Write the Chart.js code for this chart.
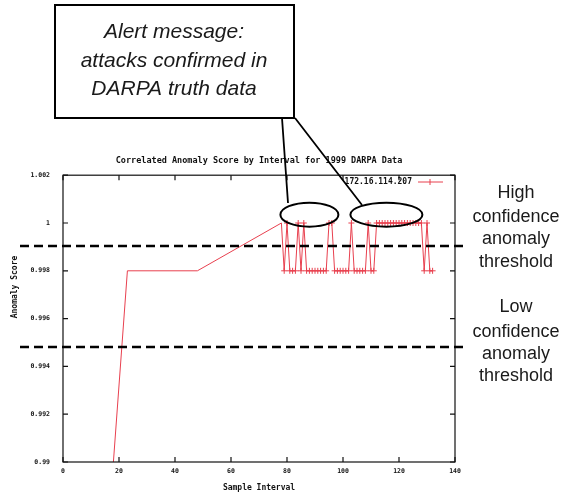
<!DOCTYPE html>
<html>
<head>
<meta charset="utf-8">
<script src="https://cdn.jsdelivr.net/npm/chart.js@4.4.0/dist/chart.umd.min.js"></script>
<style>
  html, body { margin: 0; padding: 0; background: #fff; }
  #wrap { width: 579px; height: 493px; }
</style>
</head>
<body>
<div id="wrap"><canvas id="c" width="579" height="493"></canvas></div>
<script>
// sample interval / correlated anomaly score
const intervals = [18, 23, 48, 78,
  79, 80, 81, 82, 83, 84, 85, 86, 87, 88, 89, 90, 91, 92, 93, 94, 95, 96, 97, 98, 99,
  100, 101, 102, 103, 104, 105, 106, 107, 108, 109, 110, 111, 112, 113, 114, 115, 116,
  117, 118, 119, 120, 121, 122, 123, 124, 125, 126, 127, 128, 129, 130, 131, 132];
const scores = [0.99, 0.998, 0.998, 1,
  0.998, 1, 0.998, 0.998, 0.998, 1, 0.998, 1, 0.998, 0.998, 0.998, 0.998, 0.998, 0.998, 0.998, 0.998, 1, 1, 0.998, 0.998, 0.998,
  0.998, 0.998, 0.998, 1, 0.998, 0.998, 0.998, 0.998, 0.998, 1, 0.998, 0.998, 1, 1, 1, 1, 1,
  1, 1, 1, 1, 1, 1, 1, 1, 1, 1, 1, 1, 0.998, 1, 0.998, 0.998];

const seriesName = "172.16.114.207";
const xTicks = [0, 20, 40, 60, 80, 100, 120, 140];
const yTicks = [0.99, 0.992, 0.994, 0.996, 0.998, 1, 1.002];

const highThreshold = 0.99904;
const lowThreshold = 0.99481;

const red = "#e8404f";
const mono = "'DejaVu Sans Mono', monospace";
const sans = "'Liberation Sans', Arial, sans-serif";

// everything drawn on top of the plot: frame, inward ticks, legend, thresholds and callouts
const overlay = {
  id: "overlay",
  afterDraw(chart) {
    const ctx = chart.ctx;
    const a = chart.chartArea;
    const xs = chart.scales.x, ys = chart.scales.y;
    ctx.save();

    // frame + gnuplot style inward ticks
    ctx.strokeStyle = "#111";
    ctx.lineWidth = 1.2;
    ctx.strokeRect(a.left, a.top, a.right - a.left, a.bottom - a.top);
    ctx.beginPath();
    xTicks.forEach(v => {
      const px = xs.getPixelForValue(v);
      ctx.moveTo(px, a.bottom); ctx.lineTo(px, a.bottom - 5);
      ctx.moveTo(px, a.top); ctx.lineTo(px, a.top + 5);
    });
    yTicks.forEach(v => {
      const py = ys.getPixelForValue(v);
      ctx.moveTo(a.left, py); ctx.lineTo(a.left + 5, py);
      ctx.moveTo(a.right, py); ctx.lineTo(a.right - 5, py);
    });
    ctx.stroke();

    // y axis label, sits a bit above the middle in the original
    ctx.fillStyle = "#111";
    ctx.font = "bold 8px " + mono;
    ctx.textAlign = "center";
    ctx.textBaseline = "middle";
    ctx.save();
    ctx.translate(15, 287);
    ctx.rotate(-Math.PI / 2);
    ctx.fillText("Anomaly Score", 0, 0);
    ctx.restore();

    // legend
    ctx.font = "bold 8px " + mono;
    ctx.textAlign = "right";
    ctx.fillText(seriesName, 412, 182);
    ctx.strokeStyle = red;
    ctx.lineWidth = 1;
    ctx.beginPath();
    ctx.moveTo(418, 182); ctx.lineTo(443, 182);
    ctx.moveTo(430, 179); ctx.lineTo(430, 185);
    ctx.stroke();

    // threshold lines, across the whole figure
    ctx.strokeStyle = "#000";
    ctx.lineWidth = 2.5;
    ctx.setLineDash([9, 5]);
    [highThreshold, lowThreshold].forEach(t => {
      const py = ys.getPixelForValue(t);
      ctx.beginPath();
      ctx.moveTo(20, py); ctx.lineTo(468, py);
      ctx.stroke();
    });
    ctx.setLineDash([]);

    // ellipses round the confirmed attacks
    ctx.lineWidth = 2;
    const e1x = xs.getPixelForValue(88), e2x = xs.getPixelForValue(115.5);
    const ey = ys.getPixelForValue(1.00035);
    ctx.beginPath();
    ctx.ellipse(e1x, ey, 29, 12, 0, 0, Math.PI * 2);
    ctx.stroke();
    ctx.beginPath();
    ctx.ellipse(e2x, ey, 36, 12, 0, 0, Math.PI * 2);
    ctx.stroke();

    // callout lines
    ctx.lineWidth = 1.8;
    ctx.beginPath();
    ctx.moveTo(282, 118); ctx.lineTo(288, 203);
    ctx.moveTo(295, 118); ctx.lineTo(362, 205);
    ctx.stroke();

    // alert box
    ctx.fillStyle = "#fff";
    ctx.fillRect(55, 5, 239, 113);
    ctx.lineWidth = 2;
    ctx.strokeRect(55, 5, 239, 113);
    ctx.fillStyle = "#1a1a1a";
    ctx.font = "italic 21px " + sans;
    ctx.textAlign = "center";
    ctx.textBaseline = "alphabetic";
    ctx.fillText("Alert message:", 174, 38);
    ctx.fillText("attacks confirmed in", 174, 67);
    ctx.fillText("DARPA truth data", 174, 95);

    // threshold captions
    ctx.textBaseline = "middle";
    ctx.font = "18px " + sans;
    ["High", "confidence", "anomaly", "threshold"].forEach((s, i) => {
      ctx.fillText(s, 516, [193, 217, 239, 262][i]);
    });
    ["Low", "confidence", "anomaly", "threshold"].forEach((s, i) => {
      ctx.fillText(s, 516, [307, 332, 354, 376][i]);
    });

    ctx.restore();
  }
};

new Chart(document.getElementById("c"), {
  type: "line",
  data: {
    datasets: [{
      label: seriesName,
      data: intervals.map((x, i) => ({ x: x, y: scores[i] })),
      borderColor: red,
      borderWidth: 1,
      pointStyle: "cross",
      pointRadius: c => (c.raw && c.raw.x >= 79 ? 3 : 0),
      pointBorderColor: red,
      pointBorderWidth: 1,
      tension: 0,
      fill: false
    }]
  },
  options: {
    responsive: false,
    animation: false,
    layout: { padding: { left: 0, right: 124, top: 156, bottom: 0 } },
    plugins: {
      legend: { display: false },
      tooltip: { enabled: false },
      title: {
        display: true,
        fullSize: false,
        text: "Correlated Anomaly Score by Interval for 1999 DARPA Data",
        color: "#111",
        font: { family: mono, size: 8.5, weight: "bold", lineHeight: 1.2 },
        padding: { top: 0, bottom: 9 }
      }
    },
    scales: {
      x: {
        type: "linear",
        min: 0, max: 140,
        afterFit: s => { s.height = 31; },
        afterBuildTicks: s => { s.ticks = xTicks.map(v => ({ value: v })); },
        grid: { display: false, drawTicks: false },
        border: { display: false },
        ticks: { padding: 5, color: "#111", font: { family: mono, size: 6.5, weight: "bold" } },
        title: {
          display: true, text: "Sample Interval", color: "#111",
          font: { family: mono, size: 8, weight: "bold", lineHeight: 1.2 },
          padding: { top: 4, bottom: 0 }
        }
      },
      y: {
        min: 0.99, max: 1.002,
        afterFit: s => { s.width = 63; },
        afterBuildTicks: s => { s.ticks = yTicks.map(v => ({ value: v })); },
        grid: { display: false, drawTicks: false },
        border: { display: false },
        ticks: {
          padding: 13, color: "#111",
          font: { family: mono, size: 6.5, weight: "bold" },
          callback: v => String(+v.toFixed(3))
        }
      }
    }
  },
  plugins: [overlay]
});
</script>
</body>
</html>
